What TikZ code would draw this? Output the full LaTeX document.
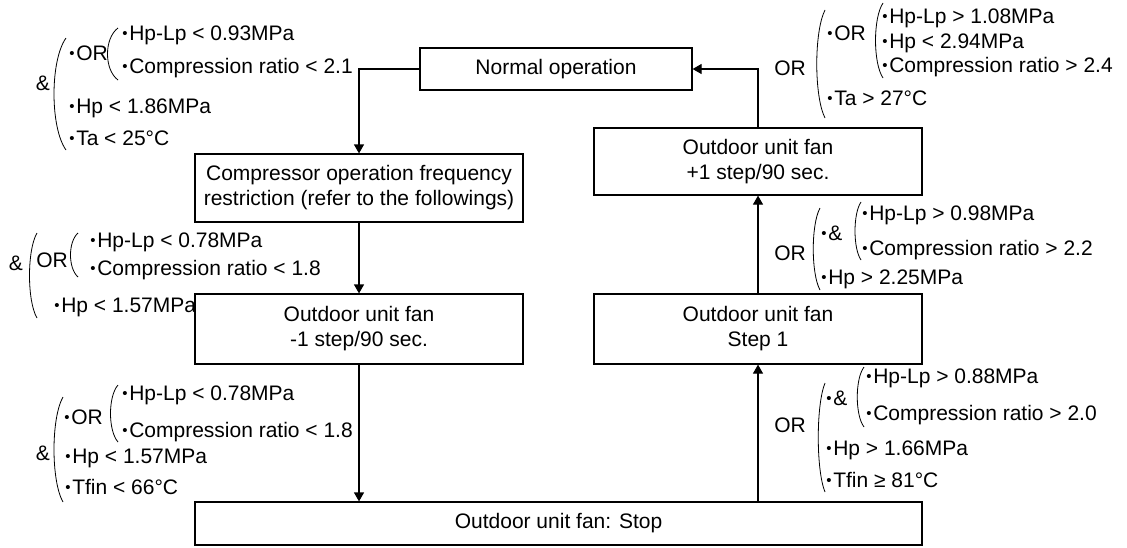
\documentclass[tikz,border=0pt]{standalone}
\usepackage{fontspec}
\setmainfont{Liberation Sans}
\usetikzlibrary{arrows.meta}
\newcommand\bod{\raisebox{1pt}{\fontsize{7.5}{7.5}\selectfont •}\hspace{0.8pt}}
\tikzset{
  blok/.style={draw,line width=0.6pt,minimum width=164pt,minimum height=34pt,align=center,inner sep=2pt},
  podm/.style={anchor=west,inner sep=0pt},
  znak/.style={inner sep=0pt},
  tenka/.style={line width=0.4pt},
  sipka/.style={-{Triangle[length=4.5pt,width=5pt]},line width=0.6pt},
  pics/zatv/.style 2 args={code={\draw[tenka] (0,0) .. controls (-#2,0.2*#1) and (-#2,0.8*#1) .. (0,#1);}},
}

\begin{document}
\begin{tikzpicture}[x=0.5pt,y=-0.5pt,font=\fontsize{10.5}{12.5}\selectfont]
  \useasboundingbox (0,0) rectangle (1127,547);
  % bloky
  \node[blok,minimum width=136pt,minimum height=21pt] (normal) at (556,69) {Normal operation};
  \node[blok] (komp) at (359,188) {Compressor operation frequency\\restriction (refer to the followings)};
  \node[blok,minimum height=35pt] (minus) at (359,329) {Outdoor unit fan\\-1 step/90 sec.};
  \node[blok,minimum width=363.5pt,minimum height=21.5pt] (stop) at (558.5,523.5) {Outdoor unit fan: Stop};
  \node[blok,minimum height=33.5pt] (plus) at (758,161.5) {Outdoor unit fan\\+1 step/90 sec.};
  \node[blok,minimum height=35pt] (krok) at (758,329) {Outdoor unit fan\\Step 1};
  % sipky
  \draw[sipka] (normal.west) -| (komp.north);
  \draw[sipka] (komp) -- (minus);
  \draw[sipka] (minus.south) -- (minus.south |- stop.north);
  \draw[sipka] (stop.north -| krok) -- (krok.south);
  \draw[sipka] (krok) -- (plus);
  \draw[sipka] (plus.north) |- (normal.east);
  % podmienky: normal -> komp
  \node[znak] (aA) at (43,83) {\&};
  \pic at (66,38) {zatv={112}{16}};
  \node[podm] (aOR) at (69,53) {\bod OR};
  \pic at (118,28) {zatv={52}{14}};
  \node[podm] (aRoz) at (122,35) {\bod Hp-Lp < 0.93MPa};
  \node[podm] (aKom) at (122,68) {\bod Compression ratio < 2.1};
  \node[podm] (aHp) at (69,108) {\bod Hp < 1.86MPa};
  \node[podm] (aTa) at (69,138) {\bod Ta < 25°C};
  % podmienky: komp -> minus
  \node[znak] (bA) at (16,263) {\&};
  \pic at (37,233) {zatv={85}{10}};
  \node[znak] (bOR) at (52,260) {OR};
  \pic at (78,233) {zatv={44}{10}};
  \node[podm] (bRoz) at (90,242) {\bod Hp-Lp < 0.78MPa};
  \node[podm] (bKom) at (90,270) {\bod Compression ratio < 1.8};
  \node[podm] (bHp) at (54,307) {\bod Hp < 1.57MPa};
  % podmienky: minus -> stop
  \node[znak] (cA) at (43,453) {\&};
  \pic at (63,397) {zatv={105}{12}};
  \node[podm] (cOR) at (64,417) {\bod OR};
  \pic at (118,385) {zatv={57}{10}};
  \node[podm] (cRoz) at (122,395) {\bod Hp-Lp < 0.78MPa};
  \node[podm] (cKom) at (122,432) {\bod Compression ratio < 1.8};
  \node[podm] (cHp) at (65,458) {\bod Hp < 1.57MPa};
  \node[podm] (cTf) at (65,487) {\bod Tfin < 66°C};
  % podmienky: plus -> normal
  \node[znak] (dOR) at (790,68) {OR};
  \pic at (825,10) {zatv={108}{11}};
  \node[podm] (dOR2) at (827,33) {\bod OR};
  \pic at (883,3) {zatv={75}{10}};
  \node[podm] (dRoz) at (882,18) {\bod Hp-Lp > 1.08MPa};
  \node[podm] (dHp) at (882,43) {\bod Hp < 2.94MPa};
  \node[podm] (dKom) at (882,67) {\bod Compression ratio > 2.4};
  \node[podm] (dTa) at (827,98) {\bod Ta > 27°C};
  % podmienky: krok -> plus
  \node[znak] (eOR) at (790,253) {OR};
  \pic at (820,208) {zatv={82}{9}};
  \node[podm] (eA) at (821,233) {\bod\&};
  \pic at (861,202) {zatv={58}{8}};
  \node[podm] (eRoz) at (862,215) {\bod Hp-Lp > 0.98MPa};
  \node[podm] (eKom) at (862,250) {\bod Compression ratio > 2.2};
  \node[podm] (eHp) at (821,279) {\bod Hp > 2.25MPa};
  % podmienky: stop -> krok
  \node[znak] (fOR) at (790,425) {OR};
  \pic at (825,383) {zatv={109}{9}};
  \node[podm] (fA) at (826,398) {\bod\&};
  \pic at (864,367) {zatv={60}{9}};
  \node[podm] (fRoz) at (866,378) {\bod Hp-Lp > 0.88MPa};
  \node[podm] (fKom) at (866,415) {\bod Compression ratio > 2.0};
  \node[podm] (fHp) at (826,450) {\bod Hp > 1.66MPa};
  \node[podm] (fTf) at (826,480) {\bod Tfin ≥ 81°C};
\end{tikzpicture}
\end{document}
